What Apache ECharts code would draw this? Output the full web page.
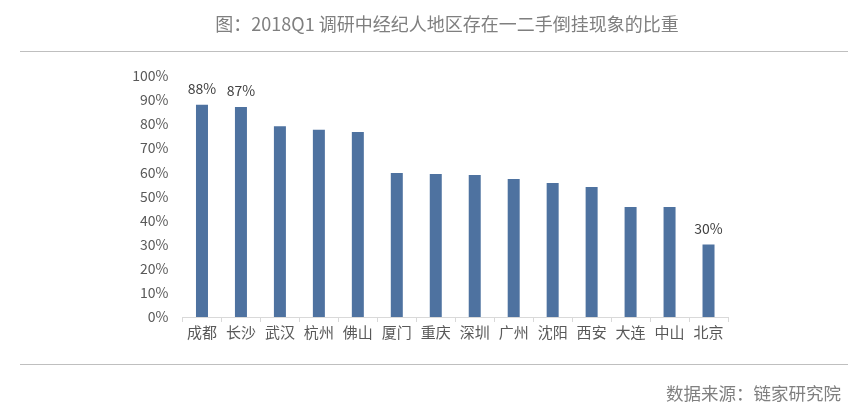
<!DOCTYPE html>
<html>
<head>
<meta charset="utf-8">
<script src="https://cdn.jsdelivr.net/npm/echarts@6/dist/echarts.min.js"></script>
<style>
html,body{margin:0;padding:0;background:#fff;}
#c{width:863px;height:411px;}
</style>
</head>
<body>
<div id="c"></div>
<script>
const titleText = '图：2018Q1 调研中经纪人地区存在一二手倒挂现象的比重';
const sourceText = '数据来源：链家研究院';
const categories = ['成都','长沙','武汉','杭州','佛山','厦门','重庆','深圳','广州','沈阳','西安','大连','中山','北京'];
const values = [88, 87, 79, 77.6, 76.7, 59.7, 59.3, 58.8, 57.2, 55.5, 53.9, 45.6, 45.6, 30];
const labeledCities = ['成都','长沙','北京'];
const yTicks = { min: 0, max: 100, interval: 10 };

const font = '"Noto Sans CJK SC", "Noto Sans", sans-serif';
const chart = echarts.init(document.getElementById('c'));
chart.setOption({
  animation: false,
  textStyle: { fontFamily: font },
  title: [
    { text: titleText, left: 442, top: 10, textAlign: 'center',
      textStyle: { fontSize: 18, fontWeight: 'normal', color: '#7f7f7f', fontFamily: font } },
    { text: sourceText, right: 17, top: 380,
      textStyle: { fontSize: 17.5, fontWeight: 'normal', color: '#7f7f7f', fontFamily: font } }
  ],
  graphic: [
    { type: 'line', shape: { x1: 20, y1: 51.5, x2: 848, y2: 51.5 }, style: { stroke: '#bfbfbf', lineWidth: 1 } },
    { type: 'line', shape: { x1: 20, y1: 364.5, x2: 848, y2: 364.5 }, style: { stroke: '#bfbfbf', lineWidth: 1 } }
  ],
  grid: { left: 182.5, right: 135, top: 75.7, bottom: 94, containLabel: false },
  xAxis: {
    type: 'category',
    data: categories,
    axisLine: { lineStyle: { color: '#d9d9d9', width: 1 } },
    axisTick: { show: true, alignWithLabel: false, length: 5, lineStyle: { color: '#d9d9d9' } },
    axisLabel: { color: '#595959', fontSize: 15, margin: 8, fontFamily: font, interval: 0 }
  },
  yAxis: {
    type: 'value',
    min: yTicks.min, max: yTicks.max, interval: yTicks.interval,
    axisLine: { show: false },
    axisTick: { show: false },
    splitLine: { show: false },
    axisLabel: { color: '#595959', fontSize: 14, margin: 14, formatter: '{value}%', fontFamily: font }
  },
  series: [{
    type: 'bar',
    data: values.map((v, i) => ({
      value: v,
      label: { show: labeledCities.includes(categories[i]) }
    })),
    barWidth: 12,
    itemStyle: { color: '#4e72a0' },
    label: {
      position: 'top', distance: 9,
      color: '#404040', fontSize: 14, fontFamily: font,
      formatter: p => Math.round(p.value) + '%'
    }
  }]
});
</script>
</body>
</html>
